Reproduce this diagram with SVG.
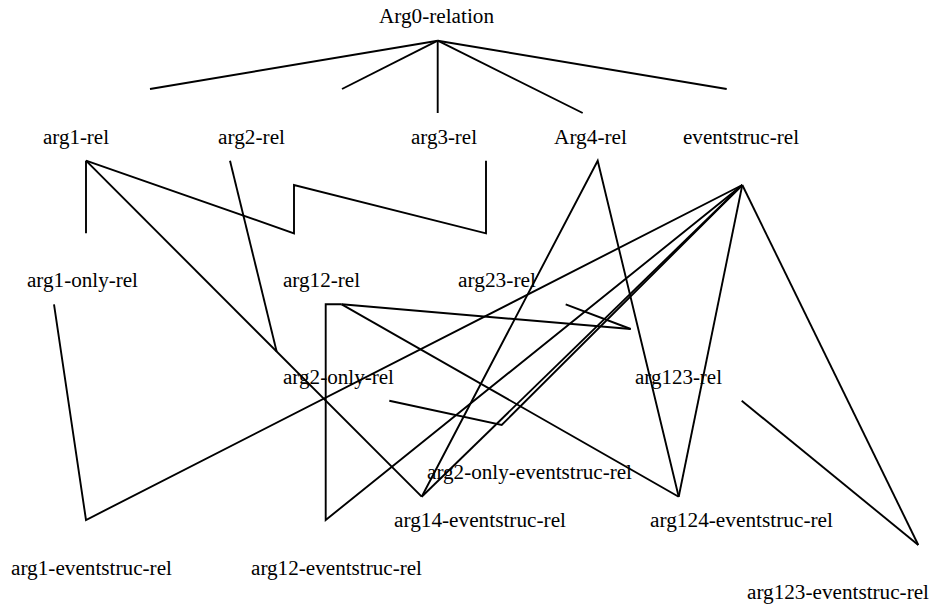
<svg xmlns="http://www.w3.org/2000/svg" width="932" height="607" viewBox="0 0 932 607">
  <style>
    .lbl { font-family: "Liberation Serif", "Times New Roman", serif; font-size: 20px; fill: #000; }
    .edge { fill: none; stroke: #000; stroke-width: 1.9; stroke-linejoin: miter; stroke-linecap: butt; }
  </style>
  <rect x="0" y="0" width="932" height="607" fill="#fff"/>

  <!-- connectors -->
  <g id="connectors" class="edge">
    <!-- root fan -->
    <line x1="437.7" y1="40.7" x2="150" y2="89"/>
    <line x1="437.7" y1="40.7" x2="342" y2="89"/>
    <line x1="437.7" y1="40.7" x2="437.7" y2="113"/>
    <line x1="437.7" y1="40.7" x2="582.7" y2="113"/>
    <line x1="437.7" y1="40.7" x2="726.7" y2="89"/>
    <!-- arg1-rel -->
    <line x1="86" y1="160.7" x2="86" y2="233.3"/>
    <polyline points="86,160.7 294,233.3 294,185 486,233.3 486,160.7"/>
    <line x1="86" y1="160.7" x2="421.7" y2="496.7"/>
    <!-- arg2-rel -->
    <line x1="230" y1="160.7" x2="276.7" y2="351.7"/>
    <!-- arg1-only-rel / arg1-eventstruc-rel -->
    <polyline points="54,304.3 86,520 742.3,185"/>
    <!-- arg12-rel -->
    <polyline points="341.7,304.3 325.7,304.3 325.7,520 742.3,185"/>
    <line x1="341.7" y1="304.3" x2="630.7" y2="329"/>
    <line x1="341.7" y1="304.3" x2="678.7" y2="496.7"/>
    <!-- arg23-rel -->
    <line x1="565.7" y1="304.3" x2="630.7" y2="329"/>
    <!-- arg2-only-rel -->
    <polyline points="389.3,400.7 501.7,425 742.3,185"/>
    <!-- Arg4-rel -->
    <polyline points="421.7,496.7 597.7,160.7 678.7,496.7"/>
    <!-- eventstruc-rel -->
    <line x1="742.3" y1="185" x2="421.7" y2="496.7"/>
    <line x1="742.3" y1="185" x2="678.7" y2="496.7"/>
    <line x1="742.3" y1="185" x2="918.3" y2="545"/>
    <!-- arg123-rel -->
    <line x1="741.7" y1="400.7" x2="918.3" y2="545"/>
  </g>

  <!-- nodes -->
  <g id="arg0-relation"><text class="lbl" x="379" y="23" textLength="115" lengthAdjust="spacingAndGlyphs">Arg0-relation</text></g>
  <g id="arg1-rel"><text class="lbl" x="43" y="144" textLength="66" lengthAdjust="spacingAndGlyphs">arg1-rel</text></g>
  <g id="arg2-rel"><text class="lbl" x="218" y="144" textLength="67" lengthAdjust="spacingAndGlyphs">arg2-rel</text></g>
  <g id="arg3-rel"><text class="lbl" x="411" y="144" textLength="66" lengthAdjust="spacingAndGlyphs">arg3-rel</text></g>
  <g id="arg4-rel"><text class="lbl" x="554" y="144" textLength="73" lengthAdjust="spacingAndGlyphs">Arg4-rel</text></g>
  <g id="eventstruc-rel"><text class="lbl" x="683" y="144" textLength="116" lengthAdjust="spacingAndGlyphs">eventstruc-rel</text></g>
  <g id="arg1-only-rel"><text class="lbl" x="27" y="287" textLength="111" lengthAdjust="spacingAndGlyphs">arg1-only-rel</text></g>
  <g id="arg12-rel"><text class="lbl" x="283" y="287" textLength="77" lengthAdjust="spacingAndGlyphs">arg12-rel</text></g>
  <g id="arg23-rel"><text class="lbl" x="458" y="287" textLength="78" lengthAdjust="spacingAndGlyphs">arg23-rel</text></g>
  <g id="arg2-only-rel"><text class="lbl" x="283" y="384" textLength="111" lengthAdjust="spacingAndGlyphs">arg2-only-rel</text></g>
  <g id="arg123-rel"><text class="lbl" x="635" y="384" textLength="87" lengthAdjust="spacingAndGlyphs">arg123-rel</text></g>
  <g id="arg2-only-eventstruc-rel"><text class="lbl" x="427" y="479" textLength="205" lengthAdjust="spacingAndGlyphs">arg2-only-eventstruc-rel</text></g>
  <g id="arg14-eventstruc-rel"><text class="lbl" x="394" y="527" textLength="172" lengthAdjust="spacingAndGlyphs">arg14-eventstruc-rel</text></g>
  <g id="arg124-eventstruc-rel"><text class="lbl" x="650" y="527" textLength="183" lengthAdjust="spacingAndGlyphs">arg124-eventstruc-rel</text></g>
  <g id="arg1-eventstruc-rel"><text class="lbl" x="11" y="575" textLength="161" lengthAdjust="spacingAndGlyphs">arg1-eventstruc-rel</text></g>
  <g id="arg12-eventstruc-rel"><text class="lbl" x="251" y="575" textLength="171" lengthAdjust="spacingAndGlyphs">arg12-eventstruc-rel</text></g>
  <g id="arg123-eventstruc-rel"><text class="lbl" x="747" y="599" textLength="182" lengthAdjust="spacingAndGlyphs">arg123-eventstruc-rel</text></g>
</svg>
